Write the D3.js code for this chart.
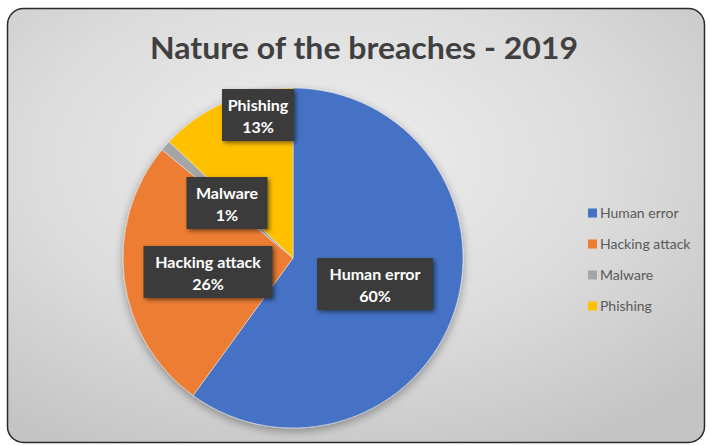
<!DOCTYPE html>
<html><head><meta charset="utf-8">
<script src="https://cdn.jsdelivr.net/npm/d3@7"></script>
<style>html,body{margin:0;padding:0;background:#fff;}svg{display:block;}</style>
</head><body>
<svg id="c" width="710" height="446"></svg>
<script>
const categories = ["Human error", "Hacking attack", "Malware", "Phishing"];
const values = [60, 26, 1, 13];
const colors = ["#4472C4", "#ED7D31", "#A5A5A5", "#FFC000"];
const title = "Nature of the breaches - 2019";

const svg = d3.select("#c");
const defs = svg.append("defs");
const bg = defs.append("radialGradient").attr("id","bg").attr("cx","0.45").attr("cy","0.35").attr("r","0.75");
bg.append("stop").attr("offset","0").attr("stop-color","#efefef");
bg.append("stop").attr("offset","0.55").attr("stop-color","#dcdcdc");
bg.append("stop").attr("offset","1").attr("stop-color","#c4c4c4");
const sh = defs.append("filter").attr("id","sh").attr("x","-20%").attr("y","-20%").attr("width","140%").attr("height","140%");
sh.append("feGaussianBlur").attr("in","SourceAlpha").attr("stdDeviation",5);
sh.append("feOffset").attr("dx",0).attr("dy",3).attr("result","b");
sh.append("feComponentTransfer").append("feFuncA").attr("type","linear").attr("slope",0.35);
const m = sh.append("feMerge"); m.append("feMergeNode"); m.append("feMergeNode").attr("in","SourceGraphic");
const sh2 = defs.append("filter").attr("id","sh2").attr("x","-20%").attr("y","-20%").attr("width","140%").attr("height","150%");
sh2.append("feGaussianBlur").attr("in","SourceAlpha").attr("stdDeviation",2);
sh2.append("feOffset").attr("dx",2).attr("dy",2);
sh2.append("feComponentTransfer").append("feFuncA").attr("type","linear").attr("slope",0.5);
const m2 = sh2.append("feMerge"); m2.append("feMergeNode"); m2.append("feMergeNode").attr("in","SourceGraphic");

svg.append("rect").attr("x",7.5).attr("y",8.5).attr("width",697).attr("height",434).attr("rx",16)
  .attr("fill","url(#bg)").attr("stroke","#2a2a2a").attr("stroke-width",1.5);

svg.append("text").attr("x",364).attr("y",59).attr("text-anchor","middle")
  .attr("font-family","Lato, sans-serif").attr("font-weight",700).attr("font-size",30)
  .attr("textLength",428).attr("lengthAdjust","spacingAndGlyphs")
  .attr("fill","#404040").text(title);

const cx = 293, cy = 258, r = 170;
const pie = d3.pie().sort(null).value(d=>d);
const arcs = pie(values);
const arc = d3.arc().innerRadius(0).outerRadius(r);
const g = svg.append("g").attr("transform",`translate(${cx},${cy})`);
g.append("g").attr("filter","url(#sh)").selectAll("path").data(arcs).join("path")
  .attr("d",arc).attr("fill",(d,i)=>colors[i]).attr("stroke","#e6e6e6").attr("stroke-width",0.6);

// data labels
const labelPos = [[375,284],[208,272],[227,203],[258,115]];
const boxW = [116,129,81,72];
const lg = svg.append("g");
arcs.forEach((a,i)=>{
  const [x,y] = labelPos[i];
  const gg = lg.append("g").attr("transform",`translate(${x},${y})`);
  gg.append("rect").attr("x",-boxW[i]/2).attr("y",-26).attr("width",boxW[i]).attr("height",52)
    .attr("fill","#3b3b3b").attr("filter","url(#sh2)");
  const t = gg.append("text").attr("text-anchor","middle").attr("fill","#ffffff")
    .attr("font-family","Lato, sans-serif").attr("font-weight",700).attr("font-size",16);
  t.append("tspan").attr("x",0).attr("y",-4).text(categories[i]);
  t.append("tspan").attr("x",0).attr("y",18).text(Math.round(a.data)+"%");
});

// legend
const ly = d3.scalePoint().domain(categories).range([213,306]);
const leg = svg.append("g");
categories.forEach((c,i)=>{
  leg.append("rect").attr("x",588).attr("y",ly(c)-4.5).attr("width",9).attr("height",9).attr("fill",colors[i]);
  leg.append("text").attr("x",600).attr("y",ly(c)+5).attr("fill","#595959")
    .attr("font-family","Lato, sans-serif").attr("font-size",14).text(c);
});
</script>
</body></html>
